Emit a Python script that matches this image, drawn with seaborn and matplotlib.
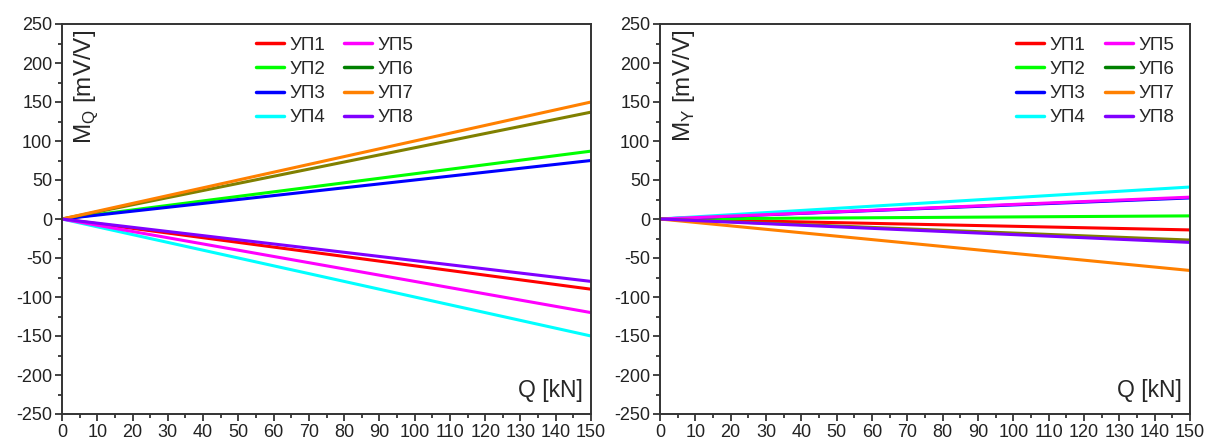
import numpy as np
import pandas as pd
import seaborn as sns
import matplotlib.pyplot as plt
from matplotlib.lines import Line2D
from matplotlib.ticker import MultipleLocator

# # DATA (values read at Q = 0 and Q = 150 kN, lines are straight)

series = ["УП1", "УП2", "УП3", "УП4", "УП5", "УП6", "УП7", "УП8"]
q_points = [0, 150]
mq_end = [-90, 87, 75, -150, -120, 137, 150, -80]
my_end = [-14, 4, 27, 41, 28, -27, -66, -30]

line_colors = ["#ff0000", "#00ff00", "#0000ff", "#00ffff",
               "#ff00ff", "#808000", "#ff8000", "#8000ff"]
legend_colors = ["#ff0000", "#00ff00", "#0000ff", "#00ffff",
                 "#ff00ff", "#008000", "#ff8000", "#8000ff"]


def long_table(end_values):
    rows = []
    for name, end in zip(series, end_values):
        for q, m in zip(q_points, [0, end]):
            rows.append({"Q": q, "M": m, "series": name})
    return pd.DataFrame(rows)


sns.set_theme(style="ticks")
plt.rcParams["font.family"] = ["Liberation Sans", "DejaVu Sans"]
plt.rcParams["axes.unicode_minus"] = False

fig = plt.figure(figsize=(12.06, 4.42), dpi=100)
ax_left = fig.add_axes([62 / 1206, 28 / 442, 529 / 1206, 390 / 442])
ax_right = fig.add_axes([660 / 1206, 28 / 442, 530 / 1206, 390 / 442])

panels = [
    (ax_left, mq_end, r"M$_\mathregular{Q}$ [mV/V]", 0.366),
    (ax_right, my_end, r"M$_\mathregular{Y}$ [mV/V]", 0.672),
]

for ax, ends, ylabel, leg_x in panels:
    data = long_table(ends)
    sns.lineplot(data=data, x="Q", y="M", hue="series",
                 palette=dict(zip(series, line_colors)),
                 linewidth=2.2, legend=False, ax=ax)

    ax.set_xlim(0, 150)
    ax.set_ylim(-250, 250)
    ax.xaxis.set_major_locator(MultipleLocator(10))
    ax.xaxis.set_minor_locator(MultipleLocator(5))
    ax.yaxis.set_major_locator(MultipleLocator(50))
    ax.yaxis.set_minor_locator(MultipleLocator(25))
    ax.tick_params(which="major", direction="out", length=5, width=1.2,
                   color="#222222", labelsize=13, labelcolor="#222222", pad=2)
    ax.tick_params(which="minor", direction="out", length=3, width=1.2,
                   color="#222222")
    ax.tick_params(top=False, right=False, which="both")
    for sp in ax.spines.values():
        sp.set_visible(True)
        sp.set_color("#333333")
        sp.set_linewidth(1.4)
    ax.set_xlabel("")
    ax.set_ylabel("")

    # axis titles sit inside the frame
    ax.text(0.045, 0.985, ylabel, rotation=90, ha="center", va="top",
            fontsize=17.5, transform=ax.transAxes)
    ax.text(0.985, 0.03, "Q [kN]", ha="right", va="bottom",
            fontsize=16.5, transform=ax.transAxes)

    handles = [Line2D([], [], color=c, lw=2.5) for c in legend_colors]
    ax.legend(handles, series, ncol=2, loc="upper left",
              bbox_to_anchor=(leg_x, 0.968), frameon=False, fontsize=13.5,
              borderpad=0, borderaxespad=0, handlelength=1.5,
              handletextpad=0.3, columnspacing=1.0, labelspacing=0.38)

plt.savefig("out.png", dpi=100)
plt.close()
